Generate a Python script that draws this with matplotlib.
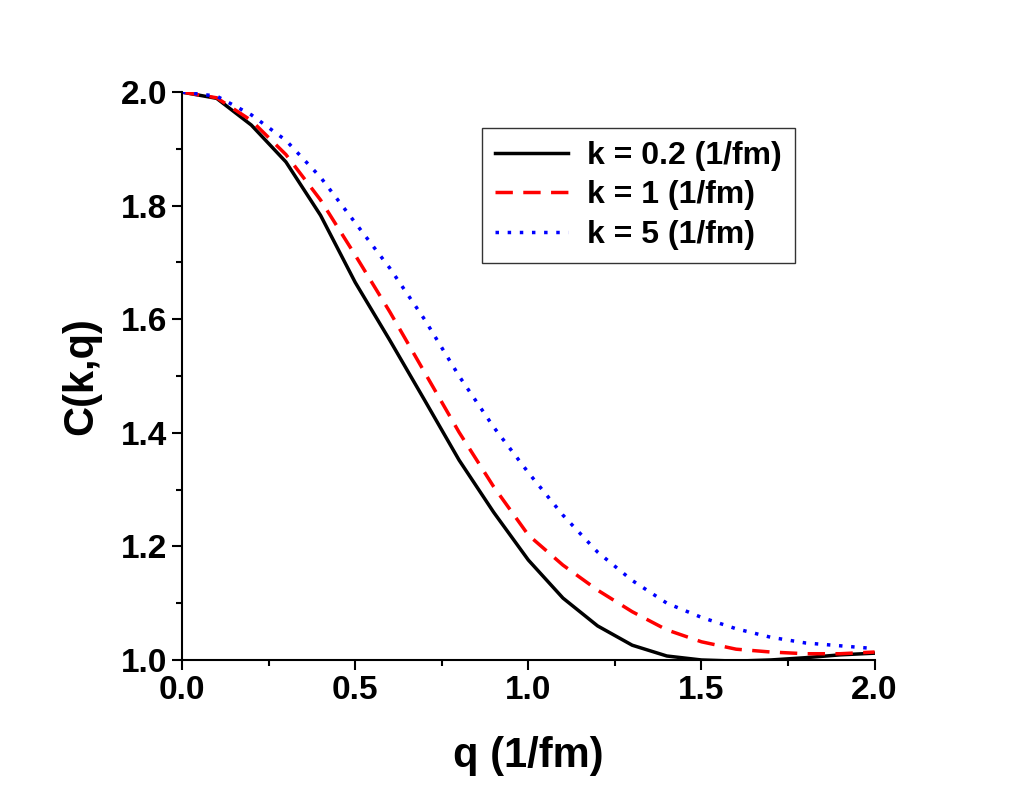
import matplotlib
matplotlib.use("Agg")
import matplotlib.pyplot as plt
from matplotlib.ticker import MultipleLocator

q = [0.0,0.1,0.2,0.3,0.4,0.5,0.6,0.7,0.8,0.9,1.0,1.1,1.2,1.3,1.4,1.5,1.6,1.7,1.8,1.9,2.0]
c_k02 = [2.0,1.989,1.942,1.877,1.783,1.665,1.563,1.458,1.352,1.26,1.176,1.109,1.06,1.026,1.007,1.0,0.998,1.0,1.004,1.009,1.012]
c_k1 = [2.0,1.99,1.95,1.89,1.81,1.713,1.613,1.507,1.401,1.305,1.22,1.167,1.123,1.085,1.053,1.032,1.019,1.014,1.011,1.011,1.014]
c_k5 = [2.0,1.993,1.96,1.915,1.85,1.77,1.69,1.6,1.5,1.41,1.33,1.255,1.19,1.14,1.1,1.075,1.055,1.04,1.03,1.025,1.02]
labels = ["k = 0.2 (1/fm)", "k = 1 (1/fm)", "k = 5 (1/fm)"]

plt.rcParams["font.family"] = "Liberation Sans"
plt.rcParams["font.weight"] = "bold"
fig = plt.figure(figsize=(10.17, 7.92), dpi=100)
ax = fig.add_axes([0.179, 0.1667, 0.681, 0.717])
ax.plot(q, c_k02, color="black", lw=2.5, ls="-", label=labels[0])
ax.plot(q, c_k1, color="red", lw=2.5, ls=(0, (5, 3)), label=labels[1])
ax.plot(q, c_k5, color="blue", lw=2.5, ls=(0, (1, 2.5)), label=labels[2])
ax.set_xlim(0, 2)
ax.set_ylim(1.0, 2.0)
ax.xaxis.set_major_locator(MultipleLocator(0.5))
ax.xaxis.set_minor_locator(MultipleLocator(0.25))
ax.yaxis.set_major_locator(MultipleLocator(0.2))
ax.yaxis.set_minor_locator(MultipleLocator(0.1))
for s in ["top", "right"]:
    ax.spines[s].set_visible(False)
for s in ["left", "bottom"]:
    ax.spines[s].set_linewidth(1.5)
ax.tick_params(which="major", direction="out", length=7, width=1.5, labelsize=24)
ax.tick_params(which="minor", direction="out", length=4, width=1.5)
ax.set_xlabel("q (1/fm)", fontsize=30, fontweight="bold", labelpad=22)
ax.set_ylabel("C(k,q)", fontsize=30, fontweight="bold", labelpad=14)
leg = ax.legend(loc="upper left", bbox_to_anchor=(0.41, 0.965), fontsize=23, frameon=True,
                fancybox=False, handlelength=2.3, borderpad=0.4, labelspacing=0.3,
                handletextpad=0.6)
leg.get_frame().set_edgecolor("black")
leg.get_frame().set_linewidth(1.0)
fig.savefig("out.png", dpi=100)
